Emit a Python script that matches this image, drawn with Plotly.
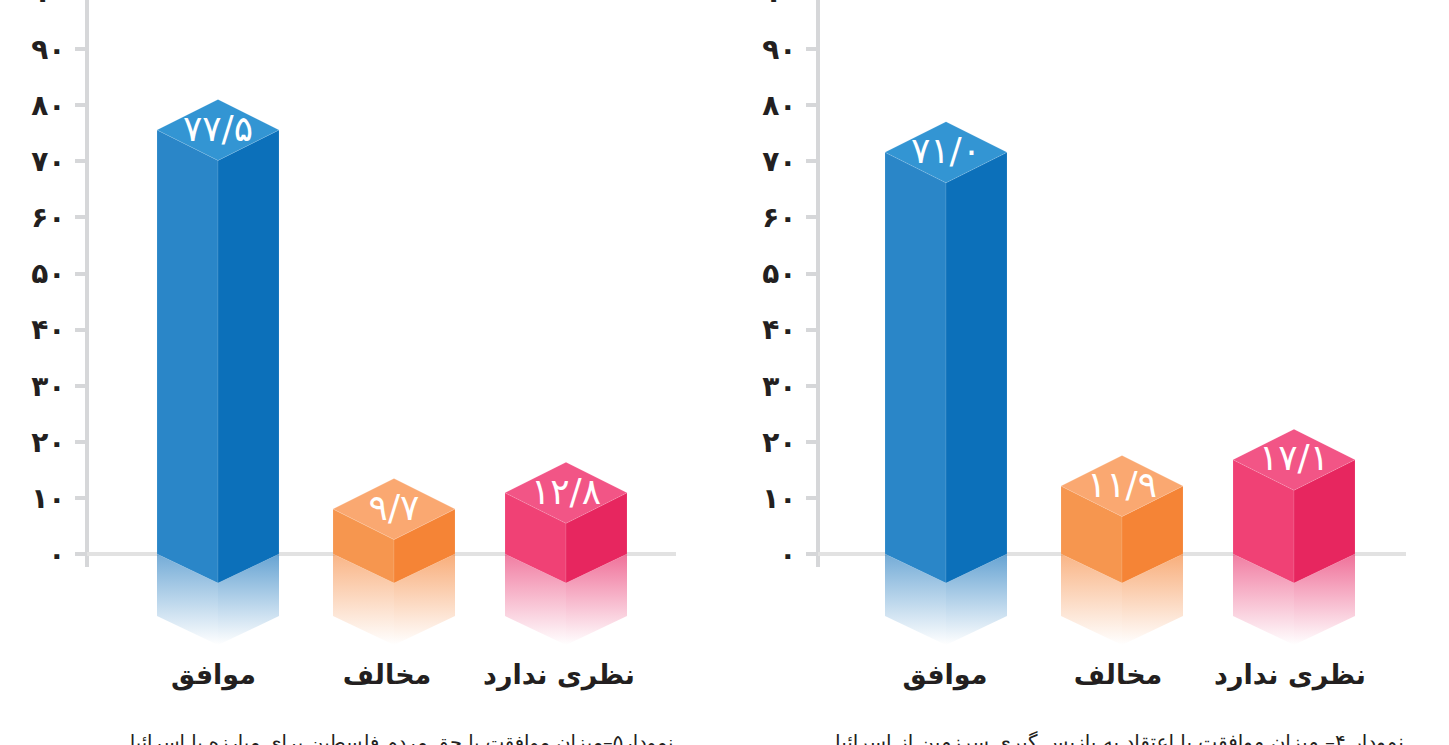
import plotly.graph_objects as go

# ---- data ----
categories = ["موافق", "مخالف", "نظری ندارد"]
printed_left = ["۷۷/۵", "۹/۷", "۱۲/۸"]
printed_right = ["۷۱/۰", "۱۱/۹", "۱۷/۱"]
heights_left = [75.6, 8.0, 10.9]      # height as drawn in the picture
heights_right = [71.6, 12.1, 16.8]
tick_values = [0, 10, 20, 30, 40, 50, 60, 70, 80, 90]
tick_labels = ["۰", "۱۰", "۲۰", "۳۰", "۴۰", "۵۰", "۶۰", "۷۰", "۸۰", "۹۰"]
top_tick_label = "۱۰۰"
caption_left = "نمودار۵–میزان موافقت با حق مردم فلسطین برای مبارزه با اسرائیل"
caption_right = "نمودار ۴– میزان موافقت با اعتقاد به بازپس گیری سرزمین از اسرائیل"

# ---- layout constants ----
W, H = 1449, 745
PX_PER_UNIT = 5.61
ZERO_PX = 554
Y_RANGE = [-(H - ZERO_PX) / PX_PER_UNIT, ZERO_PX / PX_PER_UNIT]
HALF = 61
DROP = 29 / PX_PER_UNIT          # front-corner drop of the box foot
CAP = 30.5 / PX_PER_UNIT         # half height of the top diamond
REFL = 62 / PX_PER_UNIT          # reflection depth
AXIS = "#d6d7d9"
BASE = "#e2e2e2"
INK = "#231f20"
FONT = "DejaVu Sans"
palette = [
    dict(left="#2a86c8", right="#0c70ba", top="#3395d3", rgb=(30, 120, 190)),
    dict(left="#f6964f", right="#f58436", top="#faa871", rgb=(245, 135, 60)),
    dict(left="#f04175", right="#e7265f", top="#f25586", rgb=(232, 45, 105)),
]
panels = [
    dict(xa="x", ya="y", x0=87, x1=676, centers=[131, 307, 479], label_at=[126.5, 300, 472],
         heights=heights_left, printed=printed_left, cap_size=19.5),
    dict(xa="x2", ya="y2", x0=818, x1=1406, centers=[128, 304, 476], label_at=[127, 300, 472],
         heights=heights_right, printed=printed_right, cap_size=20),
]
edge = "rgba(255,255,255,0.10)"


def poly(xs, ys, color, xa, ya):
    return go.Scatter(x=xs, y=ys, xaxis=xa, yaxis=ya, mode="lines", fill="toself",
                      fillcolor=color, line=dict(color=edge, width=1),
                      hoverinfo="skip", showlegend=False)


def reflection(xs, ys, rgb, k, xa, ya):
    r, g, b = rgb
    top, bottom = 0, -DROP - REFL
    return go.Scatter(x=xs, y=ys, xaxis=xa, yaxis=ya, mode="lines", fill="toself",
                      line=dict(width=0, color="rgba(0,0,0,0)"),
                      fillgradient=dict(type="vertical", start=bottom, stop=top,
                                        colorscale=[[0, f"rgba({r},{g},{b},0)"],
                                                    [1, f"rgba({r},{g},{b},{k})"]]),
                      hoverinfo="skip", showlegend=False)


fig = go.Figure()
for p in panels:
    xa, ya = p["xa"], p["ya"]
    for c, h, s, col in zip(p["centers"], p["heights"], p["printed"], palette):
        # reflection, mirrored below the baseline
        fig.add_trace(reflection([c - HALF, c, c, c - HALF, c - HALF],
                                 [0, -DROP, -DROP - REFL, -REFL, 0], col["rgb"], 0.62, xa, ya))
        fig.add_trace(reflection([c, c + HALF, c + HALF, c, c],
                                 [-DROP, 0, -REFL, -DROP - REFL, -DROP], col["rgb"], 0.68, xa, ya))
        # box faces
        fig.add_trace(poly([c - HALF, c, c, c - HALF, c - HALF],
                           [0, -DROP, h - CAP, h, 0], col["left"], xa, ya))
        fig.add_trace(poly([c, c + HALF, c + HALF, c, c],
                           [-DROP, 0, h, h - CAP, -DROP], col["right"], xa, ya))
        fig.add_trace(poly([c - HALF, c, c + HALF, c, c - HALF],
                           [h, h + CAP, h, h - CAP, h], col["top"], xa, ya))
        fig.add_trace(go.Scatter(x=[c], y=[h - 0.3], xaxis=xa, yaxis=ya, mode="text", text=[s],
                                 textposition="middle center",
                                 textfont=dict(family=FONT, size=36, color="white"),
                                 hoverinfo="skip", showlegend=False))

layout = dict(width=W, height=H, autosize=False, margin=dict(l=0, r=0, t=0, b=0, pad=0),
              paper_bgcolor="white", plot_bgcolor="white", showlegend=False)
shapes, annotations = [], []
for i, (p, cap) in enumerate(zip(panels, [caption_left, caption_right])):
    sfx = "" if i == 0 else "2"
    xname = f"x{sfx}"
    layout[f"xaxis{sfx}"] = dict(
        domain=[p["x0"] / W, p["x1"] / W], range=[0, p["x1"] - p["x0"]],
        anchor="free", position=(H - 656) / H, side="bottom",
        showgrid=False, zeroline=False, showline=False, ticks="",
        tickmode="array", tickvals=p["label_at"], ticktext=categories,
        tickfont=dict(family=FONT, size=27, color=INK, weight="bold"),
    )
    layout[f"yaxis{sfx}"] = dict(
        domain=[0, 1], range=Y_RANGE, anchor=xname, side="left",
        showgrid=False, showline=False,
        zeroline=True, zerolinecolor=BASE, zerolinewidth=4,
        ticks="outside", ticklen=11, tickwidth=4, tickcolor=AXIS,
        tickmode="array", tickvals=tick_values, ticktext=tick_labels,
        ticklabelstandoff=4,
        tickfont=dict(family=FONT, size=28, color=INK, weight="bold"),
    )
    # vertical axis line: paper x so its width is not clipped by the plot area
    shapes.append(dict(type="line", xref="paper", yref=f"y{sfx}", x0=p["x0"] / W, x1=p["x0"] / W,
                       y0=-2.32, y1=100, line=dict(color=AXIS, width=4), layer="below"))
    # the 100 tick sits just above the page, only the foot of its label shows
    annotations.append(dict(xref="paper", yref="paper", x=(p["x0"] - 56) / W, y=1 + 7 / H, text=top_tick_label,
                            xanchor="left", yanchor="middle", showarrow=False,
                            font=dict(family=FONT, size=28, color=INK, weight="bold")))
    annotations.append(dict(xref=xname, yref="paper", x=p["x1"] - p["x0"], y=(H - 742) / H, text=cap,
                            xanchor="right", yanchor="middle", showarrow=False,
                            font=dict(family=FONT, size=p["cap_size"], color=INK)))
layout["shapes"] = shapes
layout["annotations"] = annotations
fig.update_layout(**layout)
fig.write_html("out.html", config={"displayModeBar": False},
               post_script="document.body.style.margin='0';document.body.style.overflow='hidden';")
